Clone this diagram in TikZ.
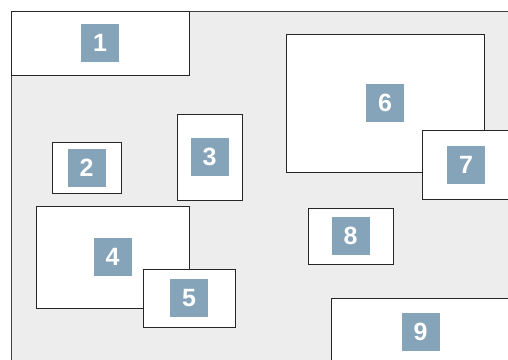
\documentclass[tikz,border=0pt]{standalone}
\usepackage{fontspec}
\setmainfont{Liberation Sans}
\definecolor{paneGray}{RGB}{237,237,237}
\definecolor{badgeBlue}{RGB}{133,164,186}
\usetikzlibrary{positioning}

\begin{document}
\begin{tikzpicture}[
  x=1pt, y=-1pt,
  pane/.style={fill=paneGray, draw=black!75, line width=1pt},
  box/.style={draw=black!85, line width=1pt, fill=white, inner sep=0pt},
  badge/.style={fill=badgeBlue, text=white, minimum size=38pt, inner sep=0pt,
                font=\fontsize{25}{25}\selectfont\bfseries}
]
  \useasboundingbox (0,0) rectangle (508,359);
  \clip (0,0) rectangle (508,359);
  \path[pane] (11,11) rectangle (530,380);

  % regions: number / centre x / centre y / width / height
  \foreach \n/\x/\y/\w/\h in {1/100/43/178/64, 2/86.5/167.5/69/51,
      3/209.5/157/65/86, 4/112.5/257/153/102, 5/189/298/92/58,
      6/385/103/198/138, 7/466/164.5/88/69, 8/350.5/236/85/56,
      9/420.5/332/179/68} {
    \node[box, minimum width=\w pt, minimum height=\h pt] (r\n) at (\x,\y) {};
    \node[badge] (n\n) at (r\n.center) {\n};
  }
\end{tikzpicture}
\end{document}
